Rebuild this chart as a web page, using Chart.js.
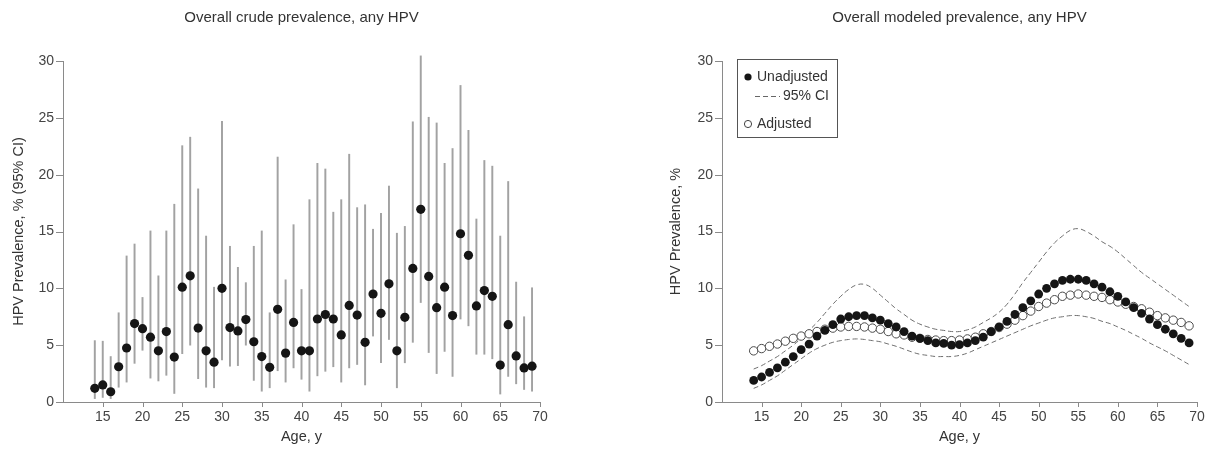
<!DOCTYPE html>
<html>
<head>
<meta charset="utf-8">
<script src="https://cdn.jsdelivr.net/npm/chart.js@4"></script>
<style>
  html, body { margin: 0; padding: 0; background: #fff; }
  body { width: 1217px; height: 452px; position: relative; overflow: hidden; }
  canvas { position: absolute; top: 0; }
  #c1 { left: 0; }
  #c2 { left: 659px; }
</style>
</head>
<body>
<canvas id="c1" width="600" height="452"></canvas>
<canvas id="c2" width="558" height="452"></canvas>
<script>
// ---------- Data ----------
const ages = [14,15,16,17,18,19,20,21,22,23,24,25,26,27,28,29,30,31,32,33,34,35,36,37,38,39,40,41,
  42,43,44,45,46,47,48,49,50,51,52,53,54,55,56,57,58,59,60,61,62,63,64,65,66,67,68,69];

// Left: crude prevalence (%) with 95% CI
const crudePrev = [1.2,1.5,0.9,3.1,4.75,6.9,6.45,5.7,4.5,6.2, 3.95,10.1,11.1,6.5,4.5,3.5,10.0,6.55,6.25,7.25,
  5.3,4.0,3.05,8.15,4.3,7.0,4.5,4.5,7.3,7.7, 7.3,5.9,8.5,7.65,5.25,9.5,7.8,10.4,4.5,7.45,
  11.75,16.95,11.05,8.3,10.1,7.6,14.8,12.9,8.45,9.8, 9.3,3.25,6.8,4.05,3.0,3.15];
const crudeLow = [0.3,0.4,0.3,1.3,1.75,3.4,4.55,2.1,1.85,2.35, 0.75,4.25,5.0,2.05,1.3,1.25,3.7,3.15,3.2,5.0,
  1.9,0.95,1.25,2.75,1.75,3.0,2.0,0.95,2.3,2.7, 3.1,1.75,3.0,3.3,1.5,5.8,3.45,5.5,1.25,3.45,
  5.25,8.75,4.35,2.5,4.45,2.25,7.3,6.7,4.2,4.2, 3.8,0.7,2.25,1.6,1.1,0.95];
const crudeHigh = [5.4,5.35,4.0,7.85,12.85,13.9,9.2,15.05,11.1,15.05, 17.4,22.55,23.3,18.75,14.6,10.1,24.7,13.7,11.85,10.5,
  13.7,15.05,7.85,21.55,10.75,15.6,9.9,17.8,21.0,20.5, 16.7,17.8,21.8,17.1,17.35,15.2,16.6,19.0,14.85,15.45,
  24.65,30.45,25.05,24.55,21.0,22.3,27.85,23.9,16.1,21.25, 20.75,14.6,19.4,10.55,7.5,10.05];

// Right: modeled prevalence (%)
const unadjusted = [1.9,2.2,2.6,3.0,3.5,4.0,4.6,5.1,5.8,6.3, 6.8,7.3,7.5,7.6,7.6,7.4,7.2,6.9,6.6,6.2,
  5.8,5.6,5.4,5.2,5.15,5.0,5.05,5.2,5.4,5.7, 6.2,6.6,7.1,7.7,8.3,8.9,9.5,10.0,10.4,10.7,
  10.8,10.8,10.7,10.4,10.1,9.7,9.3,8.8,8.3,7.8, 7.3,6.8,6.4,6.0,5.6,5.2];
const adjusted = [4.5,4.7,4.9,5.1,5.35,5.6,5.8,6.0,6.2,6.4, 6.5,6.6,6.65,6.65,6.6,6.5,6.4,6.2,6.0,5.9,
  5.7,5.6,5.5,5.45,5.4,5.4,5.45,5.55,5.7,6.0, 6.2,6.55,6.85,7.2,7.6,8.0,8.4,8.7,9.0,9.3,
  9.4,9.5,9.4,9.3,9.2,9.0,8.8,8.6,8.4,8.2, 7.9,7.6,7.4,7.2,7.0,6.7];
const ciUpper = [2.9,3.2,3.6,4.0,4.5,5.0,5.6,6.3,7.0,7.8, 8.6,9.3,9.9,10.3,10.35,10.0,9.4,8.8,8.2,7.7,
  7.2,6.85,6.6,6.4,6.3,6.2,6.2,6.35,6.6,7.0, 7.4,7.9,8.6,9.5,10.5,11.4,12.3,13.2,14.0,14.6,
  15.1,15.25,15.0,14.6,14.1,13.7,13.2,12.6,12.0,11.4, 10.9,10.4,9.9,9.4,8.9,8.4];
const ciLower = [1.2,1.5,1.9,2.3,2.8,3.3,3.8,4.3,4.7,5.0, 5.25,5.4,5.5,5.55,5.5,5.4,5.3,5.1,4.9,4.65,
  4.4,4.2,4.1,4.0,4.0,4.0,4.1,4.3,4.6,4.9, 5.2,5.5,5.8,6.1,6.4,6.7,6.95,7.2,7.4,7.5,
  7.6,7.6,7.5,7.35,7.1,6.9,6.6,6.3,5.95,5.6, 5.2,4.85,4.5,4.1,3.7,3.3];

const xTicks = [15,20,25,30,35,40,45,50,55,60,65,70];
const yTicks = [0,5,10,15,20,25,30];
const titles = ['Overall crude prevalence, any HPV', 'Overall modeled prevalence, any HPV'];
const yTitles = ['HPV Prevalence, % (95% CI)', 'HPV Prevalence, %'];
const xTitle = 'Age, y';
const legendLabels = ['Unadjusted', '95% CI', 'Adjusted'];

// ---------- Styling ----------
const FONT = "'Liberation Sans', Arial, Helvetica, sans-serif";
Chart.defaults.font.family = FONT;
Chart.defaults.font.size = 14;
Chart.defaults.color = '#444';
const AXIS = '#8a8a8a';
const X_TICK_LEN = 5, Y_TICK_LEN = 7;

// Tick marks drawn at the scale positions of the tick values
const tickMarks = {
  id: 'tickMarks',
  afterDraw(chart) {
    const { ctx, scales: { x, y } } = chart;
    ctx.save();
    ctx.strokeStyle = AXIS;
    ctx.lineWidth = 1;
    ctx.beginPath();
    xTicks.forEach(v => {
      const px = Math.round(x.getPixelForValue(v)) + 0.5;
      ctx.moveTo(px, x.top); ctx.lineTo(px, x.top + X_TICK_LEN);
    });
    yTicks.forEach(v => {
      const py = Math.round(y.getPixelForValue(v)) + 0.5;
      ctx.moveTo(y.right - Y_TICK_LEN, py); ctx.lineTo(y.right, py);
    });
    ctx.stroke();
    ctx.restore();
  }
};

function scales(yTitle, yTitlePad) {
  return {
    x: {
      type: 'linear', min: 10, max: 70, offset: false,
      afterBuildTicks: s => { s.ticks = xTicks.map(v => ({ value: v })); },
      ticks: { padding: 2 + X_TICK_LEN, color: '#444', font: { size: 14 }, maxRotation: 0, autoSkip: false },
      grid: { display: false, drawOnChartArea: false, drawTicks: false },
      border: { display: true, color: AXIS, width: 1 },
      title: { display: true, text: xTitle, color: '#333', font: { size: 14.5 }, padding: { top: 0, bottom: 6 } },
      afterFit: s => { s.height = 50; }
    },
    y: {
      type: 'linear', min: 0, max: 30,
      afterBuildTicks: s => { s.ticks = yTicks.map(v => ({ value: v })); },
      ticks: { padding: 2 + Y_TICK_LEN, color: '#444', font: { size: 14 } },
      grid: { display: false, drawOnChartArea: false, drawTicks: false },
      border: { display: true, color: AXIS, width: 1 },
      title: { display: true, text: yTitle, color: '#333', font: { size: 14.5 }, padding: { top: yTitlePad, bottom: 0 } },
      afterFit: s => { s.width = 63; }
    }
  };
}

function titleOpts(text) {
  return {
    display: true, text: text, color: '#333', fullSize: false,
    font: { size: 15, weight: 'normal' },
    padding: { top: 9, bottom: 34 }
  };
}

// ---------- Left chart ----------
new Chart(document.getElementById('c1'), {
  type: 'scatter',
  data: {
    datasets: [
      {
        type: 'bar',
        label: '95% CI',
        data: ages.map((a, i) => ({ x: a, y: [crudeLow[i], crudeHigh[i]] })),
        backgroundColor: '#a2a2a2',
        borderWidth: 0,
        barThickness: 1.3,
        grouped: false,
        clip: false,
        order: 2
      },
      {
        type: 'scatter',
        label: 'Crude prevalence',
        data: ages.map((a, i) => ({ x: a, y: crudePrev[i] })),
        backgroundColor: '#151515',
        borderWidth: 0,
        pointRadius: 4.6,
        order: 1
      }
    ]
  },
  options: {
    responsive: false,
    animation: false,
    devicePixelRatio: 1,
    layout: { padding: { left: 0, right: 60, top: 0, bottom: 0 } },
    plugins: { legend: { display: false }, tooltip: { enabled: false }, title: titleOpts(titles[0]) },
    scales: scales(yTitles[0], 10)
  },
  plugins: [tickMarks]
});

// ---------- Right chart ----------
const boxLegend = {
  id: 'boxLegend',
  afterDraw(chart) {
    const { ctx, chartArea } = chart;
    const L = chartArea.left, T = chartArea.top;
    ctx.save();
    ctx.strokeStyle = '#555';
    ctx.lineWidth = 1;
    ctx.strokeRect(Math.round(L + 15) + 0.5, Math.round(T - 2) + 0.5, 100, 78);
    ctx.font = '14px ' + FONT;
    ctx.fillStyle = '#333';
    ctx.textBaseline = 'middle';
    // Unadjusted
    ctx.beginPath(); ctx.arc(L + 26, T + 16, 3.6, 0, Math.PI * 2); ctx.fillStyle = '#151515'; ctx.fill();
    ctx.fillStyle = '#333'; ctx.fillText(legendLabels[0], L + 35, T + 16.5);
    // 95% CI
    ctx.beginPath(); ctx.setLineDash([5, 3]); ctx.strokeStyle = '#666';
    ctx.moveTo(L + 33, T + 35.5); ctx.lineTo(L + 58, T + 35.5); ctx.stroke(); ctx.setLineDash([]);
    ctx.fillText(legendLabels[1], L + 61, T + 35.5);
    // Adjusted
    ctx.beginPath(); ctx.arc(L + 26, T + 63, 3.6, 0, Math.PI * 2);
    ctx.fillStyle = '#fff'; ctx.fill(); ctx.strokeStyle = '#444'; ctx.lineWidth = 1; ctx.stroke();
    ctx.fillStyle = '#333'; ctx.fillText(legendLabels[2], L + 35, T + 63.5);
    ctx.restore();
  }
};

new Chart(document.getElementById('c2'), {
  type: 'scatter',
  data: {
    datasets: [
      {
        type: 'line', label: 'Upper 95% CI',
        data: ages.map((a, i) => ({ x: a, y: ciUpper[i] })),
        borderColor: '#6e6e6e', borderWidth: 1, borderDash: [5, 3],
        pointRadius: 0, tension: 0.4, fill: false, order: 4
      },
      {
        type: 'line', label: 'Lower 95% CI',
        data: ages.map((a, i) => ({ x: a, y: ciLower[i] })),
        borderColor: '#6e6e6e', borderWidth: 1, borderDash: [5, 3],
        pointRadius: 0, tension: 0.4, fill: false, order: 3
      },
      {
        type: 'scatter', label: 'Adjusted',
        data: ages.map((a, i) => ({ x: a, y: adjusted[i] })),
        backgroundColor: '#ffffff', borderColor: '#4a4a4a', borderWidth: 1,
        pointRadius: 4.2, order: 2
      },
      {
        type: 'scatter', label: 'Unadjusted',
        data: ages.map((a, i) => ({ x: a, y: unadjusted[i] })),
        backgroundColor: '#151515', borderWidth: 0,
        pointRadius: 4.4, order: 1
      }
    ]
  },
  options: {
    responsive: false,
    animation: false,
    devicePixelRatio: 1,
    layout: { padding: { left: 0, right: 20, top: 0, bottom: 0 } },
    plugins: { legend: { display: false }, tooltip: { enabled: false }, title: titleOpts(titles[1]) },
    scales: scales(yTitles[1], 8)
  },
  plugins: [boxLegend, tickMarks]
});
</script>
</body>
</html>
